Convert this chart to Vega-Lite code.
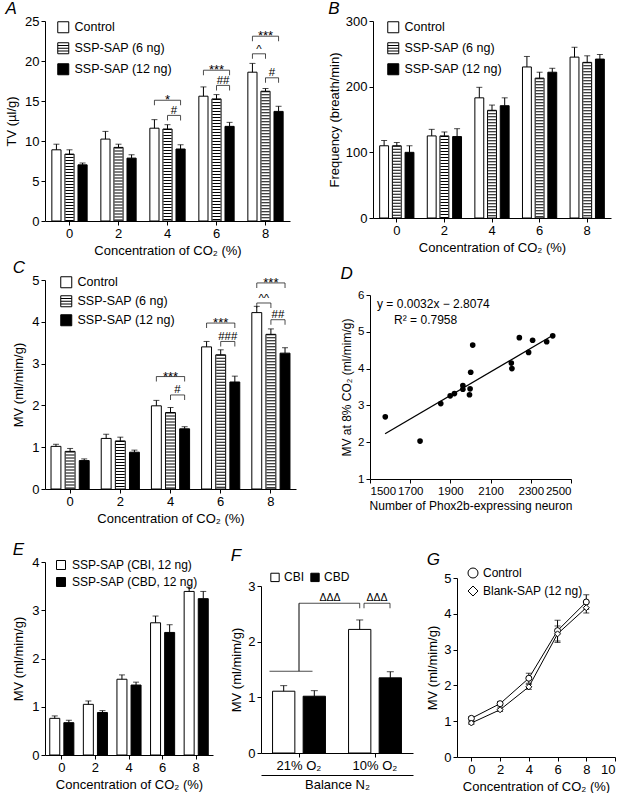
{
  "$schema": "https://vega.github.io/schema/vega-lite/v6.json",
  "padding": {"left": 5, "top": 0, "right": 2, "bottom": 0},
  "config": {
    "view": {"stroke": null},
    "font": "Liberation Sans",
    "axis": {"grid": false, "domainColor": "#000", "tickColor": "#000", "labelColor": "#000", "titleColor": "#000", "labelFontSize": 13, "titleFontSize": 13, "titleFontWeight": "normal", "tickSize": 4, "labelPadding": 2, "titlePadding": 4, "labelOverlap": false, "tickCount": 20},
    "axisX": {"labelAngle": 0},
    "legend": {"labelFontSize": 12.5, "labelColor": "#000", "symbolStrokeColor": "#000", "symbolStrokeWidth": 1, "symbolType": "square"},
    "title": {"fontSize": 17, "fontStyle": "italic", "fontWeight": "normal", "anchor": "start", "frame": "bounds", "color": "#000"},
    "tick": {"color": "#000", "thickness": 1}
  },
  "columns": 1,
  "align": "none",
  "spacing": 16,
  "resolve": {"scale": {"fill": "independent", "shape": "independent", "color": "independent"}},
  "concat": [
    {
      "columns": 1,
      "align": "none",
      "spacing": 2,
      "resolve": {"scale": {"fill": "independent", "shape": "independent", "color": "independent"}},
      "concat": [
        {
          "spacing": 38,
          "resolve": {"scale": {"fill": "independent", "shape": "independent", "color": "independent"}},
          "hconcat": [
            {
              "title": {"text": "A", "offset": -3},
              "width": 245, "height": 200,
              "data": {"values": [
                {"co2": 0, "grp": "Control", "mean": 8.9, "upper": 9.6},
                {"co2": 0, "grp": "SSP-SAP (6 ng)", "mean": 8.36, "upper": 8.9},
                {"co2": 0, "grp": "SSP-SAP (12 ng)", "mean": 7.02, "upper": 7.25},
                {"co2": 2, "grp": "Control", "mean": 10.24, "upper": 11.2},
                {"co2": 2, "grp": "SSP-SAP (6 ng)", "mean": 9.2, "upper": 9.6},
                {"co2": 2, "grp": "SSP-SAP (12 ng)", "mean": 7.86, "upper": 8.28},
                {"co2": 4, "grp": "Control", "mean": 11.6, "upper": 12.67},
                {"co2": 4, "grp": "SSP-SAP (6 ng)", "mean": 11.5, "upper": 12.04},
                {"co2": 4, "grp": "SSP-SAP (12 ng)", "mean": 9.0, "upper": 9.53},
                {"co2": 6, "grp": "Control", "mean": 15.6, "upper": 16.76},
                {"co2": 6, "grp": "SSP-SAP (6 ng)", "mean": 15.26, "upper": 15.8},
                {"co2": 6, "grp": "SSP-SAP (12 ng)", "mean": 11.83, "upper": 12.33},
                {"co2": 8, "grp": "Control", "mean": 18.6, "upper": 19.7},
                {"co2": 8, "grp": "SSP-SAP (6 ng)", "mean": 16.22, "upper": 16.56},
                {"co2": 8, "grp": "SSP-SAP (12 ng)", "mean": 13.7, "upper": 14.34}
              ]},
              "layer": [
                {
                  "transform": [{"filter": "datum.grp === 'Control'"}],
                  "mark": {"type": "bar", "width": 9.15, "xOffset": -13.07, "stroke": "#000", "strokeWidth": 1},
                  "encoding": {
                    "x": {"field": "co2", "type": "ordinal", "scale": {"type": "band", "paddingInner": 0.28, "paddingOuter": 0.14}, "axis": {"title": "Concentration of CO₂ (%)"}},
                    "y": {"field": "mean", "type": "quantitative", "scale": {"domain": [0, 25], "nice": false}, "axis": {"title": "TV (µl/g)", "values": [0, 5, 10, 15, 20, 25], "titlePadding": 6}},
                    "fill": {"field": "grp", "scale": {"domain": ["Control", "SSP-SAP (6 ng)", "SSP-SAP (12 ng)"], "range": ["#fff", "#fff", "#000"]},
                      "legend": {"title": null, "orient": "none", "legendX": 12, "legendY": 0, "direction": "vertical", "symbolSize": 121, "rowPadding": 5, "labelOffset": 5,
                        "encoding": {"symbols": {"stroke": {"value": "#000"}, "strokeWidth": {"value": 1}, "shape": {"condition": {"test": "datum.value === 'SSP-SAP (6 ng)'", "value": "M-1,-1H1V1H-1ZM-1,-0.5H1M-1,0H1M-1,0.5H1"}, "value": "square"}}}}}
                  }
                },
                {
                  "transform": [{"filter": "datum.grp === 'SSP-SAP (6 ng)'"}],
                  "mark": {"type": "bar", "width": 9.15, "xOffset": 0, "stroke": "#000", "strokeWidth": 1},
                  "encoding": {"x": {"field": "co2", "type": "ordinal"}, "y": {"field": "mean", "type": "quantitative"}, "fill": {"field": "grp"}}
                },
                {
                  "transform": [{"filter": "datum.grp === 'SSP-SAP (12 ng)'"}],
                  "mark": {"type": "bar", "width": 9.15, "xOffset": 13.07, "stroke": "#000", "strokeWidth": 1},
                  "encoding": {"x": {"field": "co2", "type": "ordinal"}, "y": {"field": "mean", "type": "quantitative"}, "fill": {"field": "grp"}}
                },
                {
                  "transform": [{"filter": "datum.grp === 'SSP-SAP (6 ng)'"}],
                  "mark": {"type": "rule", "stroke": "#000", "strokeWidth": 8.1, "strokeDash": [1, 2]},
                  "encoding": {"x": {"field": "co2", "type": "ordinal"}, "y": {"field": "mean", "type": "quantitative"}, "y2": {"datum": 0}}
                },
                {
                  "transform": [{"filter": "datum.grp === 'Control'"}],
                  "layer": [
                    {"mark": {"type": "rule", "stroke": "#000", "xOffset": -13.07}, "encoding": {"x": {"field": "co2", "type": "ordinal"}, "y": {"field": "mean", "type": "quantitative"}, "y2": {"field": "upper"}}},
                    {"mark": {"type": "tick", "orient": "horizontal", "size": 6, "xOffset": -13.07}, "encoding": {"x": {"field": "co2", "type": "ordinal"}, "y": {"field": "upper", "type": "quantitative"}}}
                  ]
                },
                {
                  "transform": [{"filter": "datum.grp === 'SSP-SAP (6 ng)'"}],
                  "layer": [
                    {"mark": {"type": "rule", "stroke": "#000"}, "encoding": {"x": {"field": "co2", "type": "ordinal"}, "y": {"field": "mean", "type": "quantitative"}, "y2": {"field": "upper"}}},
                    {"mark": {"type": "tick", "orient": "horizontal", "size": 6}, "encoding": {"x": {"field": "co2", "type": "ordinal"}, "y": {"field": "upper", "type": "quantitative"}}}
                  ]
                },
                {
                  "transform": [{"filter": "datum.grp === 'SSP-SAP (12 ng)'"}],
                  "layer": [
                    {"mark": {"type": "rule", "stroke": "#000", "xOffset": 13.07}, "encoding": {"x": {"field": "co2", "type": "ordinal"}, "y": {"field": "mean", "type": "quantitative"}, "y2": {"field": "upper"}}},
                    {"mark": {"type": "tick", "orient": "horizontal", "size": 6, "xOffset": 13.07}, "encoding": {"x": {"field": "co2", "type": "ordinal"}, "y": {"field": "upper", "type": "quantitative"}}}
                  ]
                },
                {
                  "data": {"values": [
                    {"co2": 4, "g1": "Control", "g2": "SSP-SAP (12 ng)", "y": 15.1, "label": "*"},
                    {"co2": 4, "g1": "SSP-SAP (6 ng)", "g2": "SSP-SAP (12 ng)", "y": 13.2, "label": "#"},
                    {"co2": 6, "g1": "Control", "g2": "SSP-SAP (12 ng)", "y": 18.85, "label": "***"},
                    {"co2": 6, "g1": "SSP-SAP (6 ng)", "g2": "SSP-SAP (12 ng)", "y": 16.95, "label": "##"},
                    {"co2": 8, "g1": "Control", "g2": "SSP-SAP (12 ng)", "y": 23.1, "label": "***"},
                    {"co2": 8, "g1": "Control", "g2": "SSP-SAP (6 ng)", "y": 20.9, "label": "^"},
                    {"co2": 8, "g1": "SSP-SAP (6 ng)", "g2": "SSP-SAP (12 ng)", "y": 17.9, "label": "#"}
                  ]},
                  "layer": [
                    {"transform": [{"filter": "datum.g1 === 'Control' && datum.g2 === 'SSP-SAP (12 ng)'"}], "mark": {"type": "tick", "orient": "horizontal", "size": 26.14}, "encoding": {"x": {"field": "co2", "type": "ordinal"}, "y": {"field": "y", "type": "quantitative"}}},
                    {"transform": [{"filter": "datum.g1 === 'SSP-SAP (6 ng)'"}], "mark": {"type": "tick", "orient": "horizontal", "size": 13.07, "xOffset": 6.53}, "encoding": {"x": {"field": "co2", "type": "ordinal"}, "y": {"field": "y", "type": "quantitative"}}},
                    {"transform": [{"filter": "datum.g2 === 'SSP-SAP (6 ng)'"}], "mark": {"type": "tick", "orient": "horizontal", "size": 13.07, "xOffset": -6.53}, "encoding": {"x": {"field": "co2", "type": "ordinal"}, "y": {"field": "y", "type": "quantitative"}}},
                    {"transform": [{"filter": "datum.g1 === 'Control'"}], "mark": {"type": "tick", "orient": "vertical", "size": 5, "yOffset": 2.5, "xOffset": -13.07}, "encoding": {"x": {"field": "co2", "type": "ordinal"}, "y": {"field": "y", "type": "quantitative"}}},
                    {"transform": [{"filter": "datum.g1 === 'SSP-SAP (6 ng)' || datum.g2 === 'SSP-SAP (6 ng)'"}], "mark": {"type": "tick", "orient": "vertical", "size": 5, "yOffset": 2.5}, "encoding": {"x": {"field": "co2", "type": "ordinal"}, "y": {"field": "y", "type": "quantitative"}}},
                    {"transform": [{"filter": "datum.g2 === 'SSP-SAP (12 ng)'"}], "mark": {"type": "tick", "orient": "vertical", "size": 5, "yOffset": 2.5, "xOffset": 13.07}, "encoding": {"x": {"field": "co2", "type": "ordinal"}, "y": {"field": "y", "type": "quantitative"}}},
                    {"transform": [{"filter": "datum.g1 === 'Control' && datum.g2 === 'SSP-SAP (12 ng)'"}], "mark": {"type": "text", "fontSize": 13, "baseline": "alphabetic", "dy": 4, "color": "#000"}, "encoding": {"x": {"field": "co2", "type": "ordinal"}, "y": {"field": "y", "type": "quantitative"}, "text": {"field": "label"}}},
                    {"transform": [{"filter": "datum.g1 === 'SSP-SAP (6 ng)'"}], "mark": {"type": "text", "fontSize": 11.5, "baseline": "alphabetic", "dy": -1.5, "dx": 6.53, "color": "#000"}, "encoding": {"x": {"field": "co2", "type": "ordinal"}, "y": {"field": "y", "type": "quantitative"}, "text": {"field": "label"}}},
                    {"transform": [{"filter": "datum.g2 === 'SSP-SAP (6 ng)'"}], "mark": {"type": "text", "fontSize": 11.5, "baseline": "alphabetic", "dy": -1, "dx": -6.53, "color": "#000"}, "encoding": {"x": {"field": "co2", "type": "ordinal"}, "y": {"field": "y", "type": "quantitative"}, "text": {"field": "label"}}}
                  ]
                }
              ]
            },
            {
              "title": {"text": "B", "offset": -3},
              "width": 238, "height": 197,
              "data": {"values": [
                {"co2": 0, "grp": "Control", "mean": 110, "upper": 118},
                {"co2": 0, "grp": "SSP-SAP (6 ng)", "mean": 110, "upper": 115},
                {"co2": 0, "grp": "SSP-SAP (12 ng)", "mean": 100, "upper": 110},
                {"co2": 2, "grp": "Control", "mean": 125, "upper": 135},
                {"co2": 2, "grp": "SSP-SAP (6 ng)", "mean": 125, "upper": 131},
                {"co2": 2, "grp": "SSP-SAP (12 ng)", "mean": 124, "upper": 136},
                {"co2": 4, "grp": "Control", "mean": 183, "upper": 199},
                {"co2": 4, "grp": "SSP-SAP (6 ng)", "mean": 164, "upper": 172},
                {"co2": 4, "grp": "SSP-SAP (12 ng)", "mean": 171, "upper": 183},
                {"co2": 6, "grp": "Control", "mean": 230, "upper": 246},
                {"co2": 6, "grp": "SSP-SAP (6 ng)", "mean": 213, "upper": 222},
                {"co2": 6, "grp": "SSP-SAP (12 ng)", "mean": 222, "upper": 228},
                {"co2": 8, "grp": "Control", "mean": 245, "upper": 260},
                {"co2": 8, "grp": "SSP-SAP (6 ng)", "mean": 237, "upper": 247},
                {"co2": 8, "grp": "SSP-SAP (12 ng)", "mean": 242, "upper": 249}
              ]},
              "layer": [
                {
                  "transform": [{"filter": "datum.grp === 'Control'"}],
                  "mark": {"type": "bar", "width": 8.88, "xOffset": -12.69, "stroke": "#000", "strokeWidth": 1},
                  "encoding": {
                    "x": {"field": "co2", "type": "ordinal", "scale": {"type": "band", "paddingInner": 0.28, "paddingOuter": 0.14}, "axis": {"title": "Concentration of CO₂ (%)"}},
                    "y": {"field": "mean", "type": "quantitative", "scale": {"domain": [0, 300], "nice": false}, "axis": {"title": "Frequency (breath/min)", "values": [0, 100, 200, 300], "format": "d"}},
                    "fill": {"field": "grp", "scale": {"domain": ["Control", "SSP-SAP (6 ng)", "SSP-SAP (12 ng)"], "range": ["#fff", "#fff", "#000"]},
                      "legend": {"title": null, "orient": "none", "legendX": 14, "legendY": 0, "direction": "vertical", "symbolSize": 121, "rowPadding": 5, "labelOffset": 5,
                        "encoding": {"symbols": {"stroke": {"value": "#000"}, "strokeWidth": {"value": 1}, "shape": {"condition": {"test": "datum.value === 'SSP-SAP (6 ng)'", "value": "M-1,-1H1V1H-1ZM-1,-0.5H1M-1,0H1M-1,0.5H1"}, "value": "square"}}}}}
                  }
                },
                {
                  "transform": [{"filter": "datum.grp === 'SSP-SAP (6 ng)'"}],
                  "mark": {"type": "bar", "width": 8.88, "xOffset": 0, "stroke": "#000", "strokeWidth": 1},
                  "encoding": {"x": {"field": "co2", "type": "ordinal"}, "y": {"field": "mean", "type": "quantitative"}, "fill": {"field": "grp"}}
                },
                {
                  "transform": [{"filter": "datum.grp === 'SSP-SAP (12 ng)'"}],
                  "mark": {"type": "bar", "width": 8.88, "xOffset": 12.69, "stroke": "#000", "strokeWidth": 1},
                  "encoding": {"x": {"field": "co2", "type": "ordinal"}, "y": {"field": "mean", "type": "quantitative"}, "fill": {"field": "grp"}}
                },
                {
                  "transform": [{"filter": "datum.grp === 'SSP-SAP (6 ng)'"}],
                  "mark": {"type": "rule", "stroke": "#000", "strokeWidth": 7.8, "strokeDash": [1, 2]},
                  "encoding": {"x": {"field": "co2", "type": "ordinal"}, "y": {"field": "mean", "type": "quantitative"}, "y2": {"datum": 0}}
                },
                {
                  "transform": [{"filter": "datum.grp === 'Control'"}],
                  "layer": [
                    {"mark": {"type": "rule", "stroke": "#000", "xOffset": -12.69}, "encoding": {"x": {"field": "co2", "type": "ordinal"}, "y": {"field": "mean", "type": "quantitative"}, "y2": {"field": "upper"}}},
                    {"mark": {"type": "tick", "orient": "horizontal", "size": 6, "xOffset": -12.69}, "encoding": {"x": {"field": "co2", "type": "ordinal"}, "y": {"field": "upper", "type": "quantitative"}}}
                  ]
                },
                {
                  "transform": [{"filter": "datum.grp === 'SSP-SAP (6 ng)'"}],
                  "layer": [
                    {"mark": {"type": "rule", "stroke": "#000"}, "encoding": {"x": {"field": "co2", "type": "ordinal"}, "y": {"field": "mean", "type": "quantitative"}, "y2": {"field": "upper"}}},
                    {"mark": {"type": "tick", "orient": "horizontal", "size": 6}, "encoding": {"x": {"field": "co2", "type": "ordinal"}, "y": {"field": "upper", "type": "quantitative"}}}
                  ]
                },
                {
                  "transform": [{"filter": "datum.grp === 'SSP-SAP (12 ng)'"}],
                  "layer": [
                    {"mark": {"type": "rule", "stroke": "#000", "xOffset": 12.69}, "encoding": {"x": {"field": "co2", "type": "ordinal"}, "y": {"field": "mean", "type": "quantitative"}, "y2": {"field": "upper"}}},
                    {"mark": {"type": "tick", "orient": "horizontal", "size": 6, "xOffset": 12.69}, "encoding": {"x": {"field": "co2", "type": "ordinal"}, "y": {"field": "upper", "type": "quantitative"}}}
                  ]
                }
              ]
            }
          ]
        },
        {
          "spacing": 44,
          "resolve": {"scale": {"fill": "independent", "shape": "independent", "color": "independent"}},
          "hconcat": [
            {
              "title": {"text": "C", "offset": -3},
              "width": 251, "height": 209,
              "data": {"values": [
                {"co2": 0, "grp": "Control", "mean": 1.02, "upper": 1.07},
                {"co2": 0, "grp": "SSP-SAP (6 ng)", "mean": 0.9, "upper": 0.97},
                {"co2": 0, "grp": "SSP-SAP (12 ng)", "mean": 0.68, "upper": 0.72},
                {"co2": 2, "grp": "Control", "mean": 1.21, "upper": 1.31},
                {"co2": 2, "grp": "SSP-SAP (6 ng)", "mean": 1.15, "upper": 1.24},
                {"co2": 2, "grp": "SSP-SAP (12 ng)", "mean": 0.88, "upper": 0.93},
                {"co2": 4, "grp": "Control", "mean": 1.99, "upper": 2.12},
                {"co2": 4, "grp": "SSP-SAP (6 ng)", "mean": 1.83, "upper": 1.95},
                {"co2": 4, "grp": "SSP-SAP (12 ng)", "mean": 1.44, "upper": 1.49},
                {"co2": 6, "grp": "Control", "mean": 3.4, "upper": 3.53},
                {"co2": 6, "grp": "SSP-SAP (6 ng)", "mean": 3.21, "upper": 3.33},
                {"co2": 6, "grp": "SSP-SAP (12 ng)", "mean": 2.56, "upper": 2.7},
                {"co2": 8, "grp": "Control", "mean": 4.22, "upper": 4.37},
                {"co2": 8, "grp": "SSP-SAP (6 ng)", "mean": 3.7, "upper": 3.83},
                {"co2": 8, "grp": "SSP-SAP (12 ng)", "mean": 3.25, "upper": 3.38}
              ]},
              "layer": [
                {
                  "transform": [{"filter": "datum.grp === 'Control'"}],
                  "mark": {"type": "bar", "width": 9.9, "xOffset": -14.13, "stroke": "#000", "strokeWidth": 1},
                  "encoding": {
                    "x": {"field": "co2", "type": "ordinal", "scale": {"type": "band", "paddingInner": 0.24, "paddingOuter": 0.12}, "axis": {"title": "Concentration of CO₂ (%)"}},
                    "y": {"field": "mean", "type": "quantitative", "scale": {"domain": [0, 5], "nice": false}, "axis": {"title": "MV (ml/mim/g)", "values": [0, 1, 2, 3, 4, 5], "format": "d", "titlePadding": 6}},
                    "fill": {"field": "grp", "scale": {"domain": ["Control", "SSP-SAP (6 ng)", "SSP-SAP (12 ng)"], "range": ["#fff", "#fff", "#000"]},
                      "legend": {"title": null, "orient": "none", "legendX": 15, "legendY": -4, "direction": "vertical", "symbolSize": 121, "rowPadding": 3, "labelOffset": 5,
                        "encoding": {"symbols": {"stroke": {"value": "#000"}, "strokeWidth": {"value": 1}, "shape": {"condition": {"test": "datum.value === 'SSP-SAP (6 ng)'", "value": "M-1,-1H1V1H-1ZM-1,-0.5H1M-1,0H1M-1,0.5H1"}, "value": "square"}}}}}
                  }
                },
                {
                  "transform": [{"filter": "datum.grp === 'SSP-SAP (6 ng)'"}],
                  "mark": {"type": "bar", "width": 9.9, "xOffset": 0, "stroke": "#000", "strokeWidth": 1},
                  "encoding": {"x": {"field": "co2", "type": "ordinal"}, "y": {"field": "mean", "type": "quantitative"}, "fill": {"field": "grp"}}
                },
                {
                  "transform": [{"filter": "datum.grp === 'SSP-SAP (12 ng)'"}],
                  "mark": {"type": "bar", "width": 9.9, "xOffset": 14.13, "stroke": "#000", "strokeWidth": 1},
                  "encoding": {"x": {"field": "co2", "type": "ordinal"}, "y": {"field": "mean", "type": "quantitative"}, "fill": {"field": "grp"}}
                },
                {
                  "transform": [{"filter": "datum.grp === 'SSP-SAP (6 ng)'"}],
                  "mark": {"type": "rule", "stroke": "#000", "strokeWidth": 8.8, "strokeDash": [1, 2]},
                  "encoding": {"x": {"field": "co2", "type": "ordinal"}, "y": {"field": "mean", "type": "quantitative"}, "y2": {"datum": 0}}
                },
                {
                  "transform": [{"filter": "datum.grp === 'Control'"}],
                  "layer": [
                    {"mark": {"type": "rule", "stroke": "#000", "xOffset": -14.13}, "encoding": {"x": {"field": "co2", "type": "ordinal"}, "y": {"field": "mean", "type": "quantitative"}, "y2": {"field": "upper"}}},
                    {"mark": {"type": "tick", "orient": "horizontal", "size": 6, "xOffset": -14.13}, "encoding": {"x": {"field": "co2", "type": "ordinal"}, "y": {"field": "upper", "type": "quantitative"}}}
                  ]
                },
                {
                  "transform": [{"filter": "datum.grp === 'SSP-SAP (6 ng)'"}],
                  "layer": [
                    {"mark": {"type": "rule", "stroke": "#000"}, "encoding": {"x": {"field": "co2", "type": "ordinal"}, "y": {"field": "mean", "type": "quantitative"}, "y2": {"field": "upper"}}},
                    {"mark": {"type": "tick", "orient": "horizontal", "size": 6}, "encoding": {"x": {"field": "co2", "type": "ordinal"}, "y": {"field": "upper", "type": "quantitative"}}}
                  ]
                },
                {
                  "transform": [{"filter": "datum.grp === 'SSP-SAP (12 ng)'"}],
                  "layer": [
                    {"mark": {"type": "rule", "stroke": "#000", "xOffset": 14.13}, "encoding": {"x": {"field": "co2", "type": "ordinal"}, "y": {"field": "mean", "type": "quantitative"}, "y2": {"field": "upper"}}},
                    {"mark": {"type": "tick", "orient": "horizontal", "size": 6, "xOffset": 14.13}, "encoding": {"x": {"field": "co2", "type": "ordinal"}, "y": {"field": "upper", "type": "quantitative"}}}
                  ]
                },
                {
                  "data": {"values": [
                    {"co2": 4, "g1": "Control", "g2": "SSP-SAP (12 ng)", "y": 2.69, "label": "***"},
                    {"co2": 4, "g1": "SSP-SAP (6 ng)", "g2": "SSP-SAP (12 ng)", "y": 2.25, "label": "#"},
                    {"co2": 6, "g1": "Control", "g2": "SSP-SAP (12 ng)", "y": 3.97, "label": "***"},
                    {"co2": 6, "g1": "SSP-SAP (6 ng)", "g2": "SSP-SAP (12 ng)", "y": 3.53, "label": "###"},
                    {"co2": 8, "g1": "Control", "g2": "SSP-SAP (12 ng)", "y": 4.93, "label": "***"},
                    {"co2": 8, "g1": "Control", "g2": "SSP-SAP (6 ng)", "y": 4.45, "label": "^^"},
                    {"co2": 8, "g1": "SSP-SAP (6 ng)", "g2": "SSP-SAP (12 ng)", "y": 4.05, "label": "##"}
                  ]},
                  "layer": [
                    {"transform": [{"filter": "datum.g1 === 'Control' && datum.g2 === 'SSP-SAP (12 ng)'"}], "mark": {"type": "tick", "orient": "horizontal", "size": 28.26}, "encoding": {"x": {"field": "co2", "type": "ordinal"}, "y": {"field": "y", "type": "quantitative"}}},
                    {"transform": [{"filter": "datum.g1 === 'SSP-SAP (6 ng)'"}], "mark": {"type": "tick", "orient": "horizontal", "size": 14.13, "xOffset": 7.07}, "encoding": {"x": {"field": "co2", "type": "ordinal"}, "y": {"field": "y", "type": "quantitative"}}},
                    {"transform": [{"filter": "datum.g2 === 'SSP-SAP (6 ng)'"}], "mark": {"type": "tick", "orient": "horizontal", "size": 14.13, "xOffset": -7.07}, "encoding": {"x": {"field": "co2", "type": "ordinal"}, "y": {"field": "y", "type": "quantitative"}}},
                    {"transform": [{"filter": "datum.g1 === 'Control'"}], "mark": {"type": "tick", "orient": "vertical", "size": 5, "yOffset": 2.5, "xOffset": -14.13}, "encoding": {"x": {"field": "co2", "type": "ordinal"}, "y": {"field": "y", "type": "quantitative"}}},
                    {"transform": [{"filter": "datum.g1 === 'SSP-SAP (6 ng)' || datum.g2 === 'SSP-SAP (6 ng)'"}], "mark": {"type": "tick", "orient": "vertical", "size": 5, "yOffset": 2.5}, "encoding": {"x": {"field": "co2", "type": "ordinal"}, "y": {"field": "y", "type": "quantitative"}}},
                    {"transform": [{"filter": "datum.g2 === 'SSP-SAP (12 ng)'"}], "mark": {"type": "tick", "orient": "vertical", "size": 5, "yOffset": 2.5, "xOffset": 14.13}, "encoding": {"x": {"field": "co2", "type": "ordinal"}, "y": {"field": "y", "type": "quantitative"}}},
                    {"transform": [{"filter": "datum.g1 === 'Control' && datum.g2 === 'SSP-SAP (12 ng)'"}], "mark": {"type": "text", "fontSize": 13, "baseline": "alphabetic", "dy": 4, "color": "#000"}, "encoding": {"x": {"field": "co2", "type": "ordinal"}, "y": {"field": "y", "type": "quantitative"}, "text": {"field": "label"}}},
                    {"transform": [{"filter": "datum.g1 === 'SSP-SAP (6 ng)'"}], "mark": {"type": "text", "fontSize": 11.5, "baseline": "alphabetic", "dy": -1.5, "dx": 7.07, "color": "#000"}, "encoding": {"x": {"field": "co2", "type": "ordinal"}, "y": {"field": "y", "type": "quantitative"}, "text": {"field": "label"}}},
                    {"transform": [{"filter": "datum.g2 === 'SSP-SAP (6 ng)'"}], "mark": {"type": "text", "fontSize": 11.5, "baseline": "alphabetic", "dy": -1, "dx": -7.07, "color": "#000"}, "encoding": {"x": {"field": "co2", "type": "ordinal"}, "y": {"field": "y", "type": "quantitative"}, "text": {"field": "label"}}}
                  ]
                }
              ]
            },
            {
              "title": {"text": "D", "offset": -3},
              "spacing": 8,
              "vconcat": [
                {"width": 201, "height": 1, "data": {"values": []}, "mark": "point"},
                {
                  "width": 201, "height": 184,
                  "layer": [
                    {
                      "data": {"values": [{"neurons": 1575, "mv": 2.23}, {"neurons": 2410, "mv": 4.905}]},
                      "mark": {"type": "line", "stroke": "#000", "strokeWidth": 1.3},
                      "encoding": {
                        "x": {"field": "neurons", "type": "quantitative", "scale": {"domain": [1500, 2500], "nice": false, "zero": false}, "axis": {"title": "Number of Phox2b-expressing neuron", "values": [1500, 1700, 1900, 2100, 2300, 2500], "format": "d", "labelFontSize": 11.5, "titleFontSize": 12}},
                        "y": {"field": "mv", "type": "quantitative", "scale": {"domain": [1, 6], "nice": false, "zero": false}, "axis": {"title": "MV at 8% CO₂ (ml/mim/g)", "values": [1, 2, 3, 4, 5, 6], "format": "d", "labelFontSize": 11.5, "titleFontSize": 12}}
                      }
                    },
                    {
                      "data": {"values": [
                        {"neurons": 1576, "mv": 2.69}, {"neurons": 1749, "mv": 2.03}, {"neurons": 1852, "mv": 3.05},
                        {"neurons": 1899, "mv": 3.26}, {"neurons": 1920, "mv": 3.32}, {"neurons": 1962, "mv": 3.54},
                        {"neurons": 1962, "mv": 3.44}, {"neurons": 1998, "mv": 3.45}, {"neurons": 1995, "mv": 3.29},
                        {"neurons": 2001, "mv": 3.9}, {"neurons": 2011, "mv": 4.64}, {"neurons": 2203, "mv": 4.15},
                        {"neurons": 2206, "mv": 4.0}, {"neurons": 2243, "mv": 4.84}, {"neurons": 2289, "mv": 4.44},
                        {"neurons": 2309, "mv": 4.77}, {"neurons": 2379, "mv": 4.73}, {"neurons": 2409, "mv": 4.89}
                      ]},
                      "mark": {"type": "circle", "color": "#000", "size": 32, "opacity": 1},
                      "encoding": {"x": {"field": "neurons", "type": "quantitative"}, "y": {"field": "mv", "type": "quantitative"}}
                    },
                    {
                      "data": {"values": [{"t": "y = 0.0032x − 2.8074"}]},
                      "mark": {"type": "text", "align": "left", "baseline": "middle", "fontSize": 12, "color": "#000"},
                      "encoding": {"x": {"datum": 1535}, "y": {"datum": 5.76}, "text": {"field": "t"}}
                    },
                    {
                      "data": {"values": [{"t": "R² = 0.7958"}]},
                      "mark": {"type": "text", "align": "left", "baseline": "middle", "fontSize": 12, "color": "#000"},
                      "encoding": {"x": {"datum": 1620}, "y": {"datum": 5.33}, "text": {"field": "t"}}
                    }
                  ]
                }
              ]
            }
          ]
        }
      ]
    },
    {
      "spacing": 17,
      "resolve": {"scale": {"fill": "independent", "shape": "independent", "color": "independent"}},
      "hconcat": [
        {
          "title": {"text": "E", "offset": -3},
          "width": 168, "height": 193,
          "data": {"values": [
            {"co2": 0, "grp": "SSP-SAP (CBI, 12 ng)", "mean": 0.76, "upper": 0.81},
            {"co2": 0, "grp": "SSP-SAP (CBD, 12 ng)", "mean": 0.67, "upper": 0.72},
            {"co2": 2, "grp": "SSP-SAP (CBI, 12 ng)", "mean": 1.05, "upper": 1.12},
            {"co2": 2, "grp": "SSP-SAP (CBD, 12 ng)", "mean": 0.88, "upper": 0.92},
            {"co2": 4, "grp": "SSP-SAP (CBI, 12 ng)", "mean": 1.57, "upper": 1.66},
            {"co2": 4, "grp": "SSP-SAP (CBD, 12 ng)", "mean": 1.45, "upper": 1.51},
            {"co2": 6, "grp": "SSP-SAP (CBI, 12 ng)", "mean": 2.74, "upper": 2.88},
            {"co2": 6, "grp": "SSP-SAP (CBD, 12 ng)", "mean": 2.54, "upper": 2.7},
            {"co2": 8, "grp": "SSP-SAP (CBI, 12 ng)", "mean": 3.39, "upper": 3.48},
            {"co2": 8, "grp": "SSP-SAP (CBD, 12 ng)", "mean": 3.24, "upper": 3.39}
          ]},
          "layer": [
            {
              "transform": [{"filter": "datum.grp === 'SSP-SAP (CBI, 12 ng)'"}],
              "mark": {"type": "bar", "width": 10, "xOffset": -7.05, "stroke": "#000", "strokeWidth": 1},
              "encoding": {
                "x": {"field": "co2", "type": "ordinal", "scale": {"type": "band", "paddingInner": 0.28, "paddingOuter": 0.14}, "axis": {"title": "Concentration of CO₂ (%)"}},
                "y": {"field": "mean", "type": "quantitative", "scale": {"domain": [0, 4], "nice": false}, "axis": {"title": "MV (ml/mim/g)", "values": [0, 1, 2, 3, 4], "format": "d", "titlePadding": 6}},
                "fill": {"field": "grp", "scale": {"domain": ["SSP-SAP (CBI, 12 ng)", "SSP-SAP (CBD, 12 ng)"], "range": ["#fff", "#000"]},
                  "legend": {"title": null, "orient": "none", "legendX": 10, "legendY": -3, "direction": "vertical", "symbolSize": 81, "rowPadding": 3, "labelOffset": 5, "labelFontSize": 12,
                    "encoding": {"symbols": {"stroke": {"value": "#000"}, "strokeWidth": {"value": 1}}}}}
              }
            },
            {
              "transform": [{"filter": "datum.grp === 'SSP-SAP (CBD, 12 ng)'"}],
              "mark": {"type": "bar", "width": 10, "xOffset": 7.05, "stroke": "#000", "strokeWidth": 1},
              "encoding": {"x": {"field": "co2", "type": "ordinal"}, "y": {"field": "mean", "type": "quantitative"}, "fill": {"field": "grp"}}
            },
            {
              "transform": [{"filter": "datum.grp === 'SSP-SAP (CBI, 12 ng)'"}],
              "layer": [
                {"mark": {"type": "rule", "stroke": "#000", "xOffset": -7.05}, "encoding": {"x": {"field": "co2", "type": "ordinal"}, "y": {"field": "mean", "type": "quantitative"}, "y2": {"field": "upper"}}},
                {"mark": {"type": "tick", "orient": "horizontal", "size": 6, "xOffset": -7.05}, "encoding": {"x": {"field": "co2", "type": "ordinal"}, "y": {"field": "upper", "type": "quantitative"}}}
              ]
            },
            {
              "transform": [{"filter": "datum.grp === 'SSP-SAP (CBD, 12 ng)'"}],
              "layer": [
                {"mark": {"type": "rule", "stroke": "#000", "xOffset": 7.05}, "encoding": {"x": {"field": "co2", "type": "ordinal"}, "y": {"field": "mean", "type": "quantitative"}, "y2": {"field": "upper"}}},
                {"mark": {"type": "tick", "orient": "horizontal", "size": 6, "xOffset": 7.05}, "encoding": {"x": {"field": "co2", "type": "ordinal"}, "y": {"field": "upper", "type": "quantitative"}}}
              ]
            }
          ]
        },
        {
          "spacing": 13,
          "resolve": {"scale": {"fill": "independent", "shape": "independent", "color": "independent"}},
          "hconcat": [
            {
              "title": {"text": "F", "offset": -3},
              "spacing": 8,
              "resolve": {"scale": {"fill": "independent", "shape": "independent", "color": "independent"}},
              "vconcat": [
                {"width": 152, "height": 1, "data": {"values": []}, "mark": "point"},
                {
                  "width": 152, "height": 167,
                  "resolve": {"axis": {"x": "independent"}},
                  "layer": [
                    {
                      "data": {"values": [
                        {"cond": "21% O₂", "grp": "CBI", "mean": 1.11, "upper": 1.21},
                        {"cond": "21% O₂", "grp": "CBD", "mean": 1.02, "upper": 1.12},
                        {"cond": "10% O₂", "grp": "CBI", "mean": 2.22, "upper": 2.39},
                        {"cond": "10% O₂", "grp": "CBD", "mean": 1.35, "upper": 1.46}
                      ]},
                      "layer": [
                        {
                          "transform": [{"filter": "datum.grp === 'CBI'"}],
                          "mark": {"type": "bar", "width": 22.3, "xOffset": -15.3, "stroke": "#000", "strokeWidth": 1},
                          "encoding": {
                            "x": {"field": "cond", "type": "nominal", "scale": {"type": "band", "domain": ["21% O₂", "10% O₂"], "paddingInner": 0.316, "paddingOuter": 0.158}, "axis": {"title": null, "orient": "bottom"}},
                            "y": {"field": "mean", "type": "quantitative", "scale": {"domain": [0, 3], "nice": false}, "axis": {"title": "MV (ml/mim/g)", "values": [0, 1, 2, 3], "format": "d"}},
                            "fill": {"field": "grp", "scale": {"domain": ["CBI", "CBD"], "range": ["#fff", "#000"]},
                              "legend": {"title": null, "orient": "none", "legendX": 8, "legendY": -15, "direction": "horizontal", "symbolSize": 70, "columnPadding": 3, "labelOffset": 3, "labelFontSize": 12,
                                "encoding": {"symbols": {"stroke": {"value": "#000"}, "strokeWidth": {"value": 1}}}}}
                          }
                        },
                        {
                          "transform": [{"filter": "datum.grp === 'CBD'"}],
                          "mark": {"type": "bar", "width": 22.3, "xOffset": 15.3, "stroke": "#000", "strokeWidth": 1},
                          "encoding": {"x": {"field": "cond", "type": "nominal"}, "y": {"field": "mean", "type": "quantitative"}, "fill": {"field": "grp"}}
                        },
                        {
                          "transform": [{"filter": "datum.grp === 'CBI'"}],
                          "layer": [
                            {"mark": {"type": "rule", "stroke": "#000", "xOffset": -15.3}, "encoding": {"x": {"field": "cond", "type": "nominal"}, "y": {"field": "mean", "type": "quantitative"}, "y2": {"field": "upper"}}},
                            {"mark": {"type": "tick", "orient": "horizontal", "size": 7, "xOffset": -15.3}, "encoding": {"x": {"field": "cond", "type": "nominal"}, "y": {"field": "upper", "type": "quantitative"}}}
                          ]
                        },
                        {
                          "transform": [{"filter": "datum.grp === 'CBD'"}],
                          "layer": [
                            {"mark": {"type": "rule", "stroke": "#000", "xOffset": 15.3}, "encoding": {"x": {"field": "cond", "type": "nominal"}, "y": {"field": "mean", "type": "quantitative"}, "y2": {"field": "upper"}}},
                            {"mark": {"type": "tick", "orient": "horizontal", "size": 7, "xOffset": 15.3}, "encoding": {"x": {"field": "cond", "type": "nominal"}, "y": {"field": "upper", "type": "quantitative"}}}
                          ]
                        }
                      ]
                    },
                    {
                      "data": {"values": [{"cond": "21% O₂", "y": 1.47}]},
                      "mark": {"type": "tick", "orient": "horizontal", "size": 43, "xOffset": -8},
                      "encoding": {"x": {"field": "cond", "type": "nominal", "axis": {"orient": "bottom", "title": "Balance N₂", "offset": 22, "labels": false, "ticks": false, "titlePadding": 3}}, "y": {"field": "y", "type": "quantitative"}}
                    },
                    {
                      "data": {"values": [{"cond": "21% O₂", "lo": 1.47, "hi": 2.69}]},
                      "mark": {"type": "rule", "stroke": "#000"},
                      "encoding": {"x": {"field": "cond", "type": "nominal", "axis": null}, "y": {"field": "lo", "type": "quantitative"}, "y2": {"field": "hi"}}
                    },
                    {
                      "data": {"values": [{"cond": "21% O₂", "y": 2.69}]},
                      "mark": {"type": "tick", "orient": "horizontal", "size": 60.7, "xOffset": 30.35},
                      "encoding": {"x": {"field": "cond", "type": "nominal", "axis": null}, "y": {"field": "y", "type": "quantitative"}}
                    },
                    {
                      "data": {"values": [{"cond": "10% O₂", "y": 2.69}]},
                      "layer": [
                        {"mark": {"type": "tick", "orient": "horizontal", "size": 26, "xOffset": 2}, "encoding": {"x": {"field": "cond", "type": "nominal", "axis": null}, "y": {"field": "y", "type": "quantitative"}}},
                        {"mark": {"type": "tick", "orient": "vertical", "size": 5, "yOffset": 2.5, "xOffset": -15.3}, "encoding": {"x": {"field": "cond", "type": "nominal", "axis": null}, "y": {"field": "y", "type": "quantitative"}}},
                        {"mark": {"type": "tick", "orient": "vertical", "size": 5, "yOffset": 2.5, "xOffset": -11}, "encoding": {"x": {"field": "cond", "type": "nominal", "axis": null}, "y": {"field": "y", "type": "quantitative"}}},
                        {"mark": {"type": "tick", "orient": "vertical", "size": 5, "yOffset": 2.5, "xOffset": 15}, "encoding": {"x": {"field": "cond", "type": "nominal", "axis": null}, "y": {"field": "y", "type": "quantitative"}}}
                      ]
                    },
                    {
                      "data": {"values": [{"cond": "21% O₂", "y": 2.69, "label": "ΔΔΔ"}]},
                      "mark": {"type": "text", "fontSize": 10.5, "baseline": "alphabetic", "dy": -2, "dx": 31, "color": "#000"},
                      "encoding": {"x": {"field": "cond", "type": "nominal", "axis": null}, "y": {"field": "y", "type": "quantitative"}, "text": {"field": "label"}}
                    },
                    {
                      "data": {"values": [{"cond": "10% O₂", "y": 2.69, "label": "ΔΔΔ"}]},
                      "mark": {"type": "text", "fontSize": 10.5, "baseline": "alphabetic", "dy": -2, "dx": 2, "color": "#000"},
                      "encoding": {"x": {"field": "cond", "type": "nominal", "axis": null}, "y": {"field": "y", "type": "quantitative"}, "text": {"field": "label"}}
                    }
                  ]
                }
              ]
            },
            {
              "title": {"text": "G", "offset": -7},
              "spacing": 4,
              "resolve": {"scale": {"fill": "independent", "shape": "independent", "color": "independent"}},
              "vconcat": [
                {"width": 158, "height": 1, "data": {"values": []}, "mark": "point"},
                {
                  "width": 158, "height": 179,
                  "data": {"values": [
                    {"co2": 0, "series": "Control", "mv": 1.08, "lo": 1.03, "hi": 1.13},
                    {"co2": 2, "series": "Control", "mv": 1.49, "lo": 1.43, "hi": 1.55},
                    {"co2": 4, "series": "Control", "mv": 2.2, "lo": 2.06, "hi": 2.34},
                    {"co2": 6, "series": "Control", "mv": 3.53, "lo": 3.24, "hi": 3.82},
                    {"co2": 8, "series": "Control", "mv": 4.33, "lo": 4.13, "hi": 4.53},
                    {"co2": 0, "series": "Blank-SAP (12 ng)", "mv": 0.95, "lo": 0.91, "hi": 0.99},
                    {"co2": 2, "series": "Blank-SAP (12 ng)", "mv": 1.32, "lo": 1.27, "hi": 1.37},
                    {"co2": 4, "series": "Blank-SAP (12 ng)", "mv": 1.96, "lo": 1.89, "hi": 2.03},
                    {"co2": 6, "series": "Blank-SAP (12 ng)", "mv": 3.44, "lo": 3.2, "hi": 3.66},
                    {"co2": 8, "series": "Blank-SAP (12 ng)", "mv": 4.17, "lo": 4.02, "hi": 4.32}
                  ]},
                  "layer": [
                    {
                      "mark": {"type": "line", "strokeWidth": 1},
                      "encoding": {
                        "x": {"field": "co2", "type": "quantitative", "scale": {"domain": [-1, 10], "nice": false}, "axis": {"title": "Concentration of CO₂ (%)", "values": [0, 2, 4, 6, 8, 10], "format": "d"}},
                        "y": {"field": "mv", "type": "quantitative", "scale": {"domain": [0, 5], "nice": false}, "axis": {"title": "MV (ml/mim/g)", "values": [0, 1, 2, 3, 4, 5], "format": "d"}},
                        "color": {"field": "series", "scale": {"domain": ["Control", "Blank-SAP (12 ng)"], "range": ["#000", "#000"]},
                          "legend": {"title": null, "orient": "none", "legendX": 10, "legendY": -11, "direction": "vertical", "symbolSize": 100, "rowPadding": 4, "labelOffset": 4, "labelFontSize": 12,
                            "encoding": {"symbols": {"shape": {"condition": {"test": "datum.value === 'Control'", "value": "M-1.2,0H-0.5M0.5,0H1.2M0.5,0A0.5,0.5,0,1,1,-0.5,0A0.5,0.5,0,1,1,0.5,0Z"}, "value": "M-1.2,0H-0.55M0.55,0H1.2M0,-0.55L0.55,0L0,0.55L-0.55,0Z"}, "fill": {"value": "#fff"}, "stroke": {"value": "#000"}, "strokeWidth": {"value": 1}}}}}
                      }
                    },
                    {
                      "mark": {"type": "rule", "stroke": "#000"},
                      "encoding": {"x": {"field": "co2", "type": "quantitative"}, "y": {"field": "lo", "type": "quantitative"}, "y2": {"field": "hi"}}
                    },
                    {
                      "mark": {"type": "tick", "orient": "horizontal", "size": 6},
                      "encoding": {"x": {"field": "co2", "type": "quantitative"}, "y": {"field": "hi", "type": "quantitative"}}
                    },
                    {
                      "mark": {"type": "tick", "orient": "horizontal", "size": 6},
                      "encoding": {"x": {"field": "co2", "type": "quantitative"}, "y": {"field": "lo", "type": "quantitative"}}
                    },
                    {
                      "mark": {"type": "point", "filled": true, "fill": "#fff", "stroke": "#000", "strokeWidth": 1, "size": 36, "opacity": 1},
                      "encoding": {
                        "x": {"field": "co2", "type": "quantitative"},
                        "y": {"field": "mv", "type": "quantitative"},
                        "shape": {"field": "series", "scale": {"domain": ["Control", "Blank-SAP (12 ng)"], "range": ["circle", "diamond"]}, "legend": null}
                      }
                    }
                  ]
                }
              ]
            }
          ]
        }
      ]
    }
  ]
}
